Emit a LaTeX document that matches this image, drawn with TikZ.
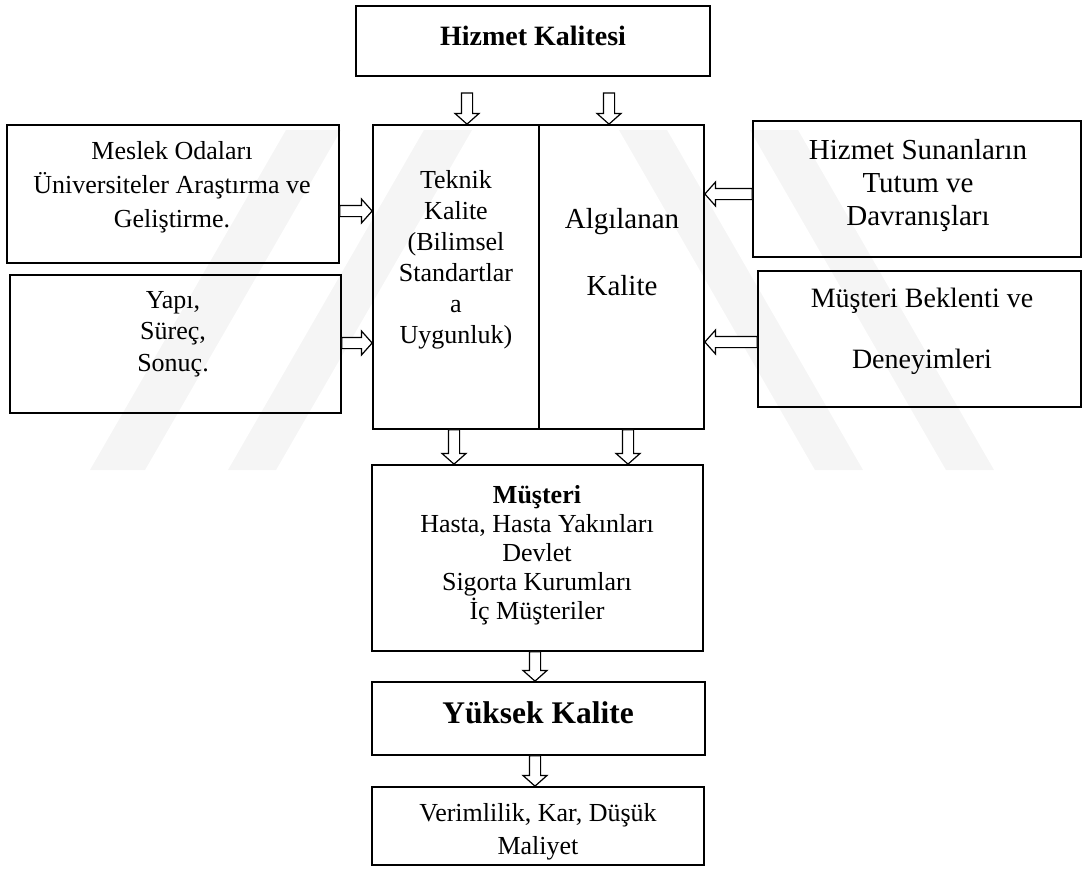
\documentclass[tikz,border=0pt]{standalone}
\usepackage{fontspec}
\setmainfont{Liberation Serif}
\usetikzlibrary{calc}
\tikzset{
  box/.style={draw, line width=1.3pt, inner sep=0pt},
  txt/.style={align=center, inner sep=0pt},
  wm/.style={fill=black!4, draw=none},
  hollow/.style={draw, fill=white, line width=0.9pt, line join=miter, to path={
    ($(\tikztotarget)!8pt!(\tikztostart)$) coordinate (hb)
    ($(\tikztostart)!4.2pt!90:(\tikztotarget)$) -- ($(hb)!4.2pt!90:(\tikztotarget)$)
    -- ($(hb)!9pt!90:(\tikztotarget)$) -- (\tikztotarget)
    -- ($(hb)!9pt!-90:(\tikztotarget)$) -- ($(hb)!4.2pt!-90:(\tikztotarget)$)
    -- ($(\tikztostart)!4.2pt!-90:(\tikztotarget)$) -- cycle}}
}
\begin{document}
\begin{tikzpicture}[x=0.75pt,y=-0.75pt]
\useasboundingbox (0,0) rectangle (1083,869);
% watermark
\fill[wm] (90,470) -- (145,470) -- (341,130) -- (286,130) -- cycle;
\fill[wm] (228,470) -- (276,470) -- (472,130) -- (424,130) -- cycle;
\fill[wm] (815,470) -- (863,470) -- (667,130) -- (619,130) -- cycle;
\fill[wm] (946,470) -- (994,470) -- (798,130) -- (750,130) -- cycle;
% boxes
\node[box, minimum width=265.5pt, minimum height=52.5pt] (hk) at (533,41) {};
\node[box, minimum width=249pt, minimum height=103.5pt] (lb1) at (173,194) {};
\node[box, minimum width=248.25pt, minimum height=103.5pt] (lb2) at (175.5,344) {};
\node[box, minimum width=124.5pt, minimum height=228pt] (tek) at (456,277) {};
\node[box, minimum width=123.75pt, minimum height=228pt] (alg) at (621.5,277) {};
\node[box, minimum width=246pt, minimum height=102pt] (rb1) at (917,189) {};
\node[box, minimum width=242.25pt, minimum height=102pt] (rb2) at (919.5,339) {};
\node[box, minimum width=248.25pt, minimum height=139.5pt] (mus) at (537.5,558) {};
\node[box, minimum width=249.75pt, minimum height=54.75pt] (yk) at (538.5,718.5) {};
\node[box, minimum width=249pt, minimum height=58.5pt] (vr) at (538,826) {};
% texts
\node[txt, font=\bfseries\fontsize{21}{24}\selectfont] (hkt) at (533,36) {Hizmet Kalitesi};
\node[txt, font=\fontsize{19.5}{25.5}\selectfont] (lb1t) at (172,187) {Meslek Odaları\\Üniversiteler Araştırma ve\\Geliştirme.};
\node[txt, font=\fontsize{19.5}{23.6}\selectfont] (lb2t) at (173,334) {Yapı,\\Süreç,\\Sonuç.};
\node[txt, font=\fontsize{19.5}{23.25}\selectfont] (tekt) at (456,260) {Teknik\\Kalite\\(Bilimsel\\Standartlar\\a\\Uygunluk)};
\node[txt, font=\fontsize{21.75}{50.25}\selectfont] (algt) at (622,252) {Algılanan\\Kalite};
\node[txt, font=\fontsize{21.75}{24.75}\selectfont] (rb1t) at (918,186) {Hizmet Sunanların\\Tutum ve\\Davranışları};
\node[txt, font=\fontsize{21}{45.75}\selectfont] (rb2t) at (922,331) {Müşteri Beklenti ve\\Deneyimleri};
\node[txt, font=\fontsize{19.5}{21.75}\selectfont] (must) at (537,555) {\textbf{Müşteri}\\Hasta, Hasta Yakınları\\Devlet\\Sigorta Kurumları\\İç Müşteriler};
\node[txt, font=\bfseries\fontsize{23.6}{26}\selectfont] (ykt) at (538,713) {Yüksek Kalite};
\node[txt, font=\fontsize{19.5}{24.75}\selectfont] (vrt) at (538,832) {Verimlilik, Kar, Düşük\\Maliyet};
% arrow coordinates
\coordinate (t1) at (467,93);
\coordinate (t2) at (609,93);
\coordinate (yl1) at (0,211);
\coordinate (yl2) at (0,343);
\coordinate (yr1) at (0,194);
\coordinate (yr2) at (0,342);
\coordinate (xb1) at (454,0);
\coordinate (xb2) at (628,0);
\coordinate (xc) at (535,0);
% arrows
\draw[hollow] (t1) to (t1 |- tek.north);
\draw[hollow] (t2) to (t2 |- alg.north);
\draw[hollow] (lb1.east |- yl1) to (tek.west |- yl1);
\draw[hollow] (lb2.east |- yl2) to (tek.west |- yl2);
\draw[hollow] (rb1.west |- yr1) to (alg.east |- yr1);
\draw[hollow] (rb2.west |- yr2) to (alg.east |- yr2);
\draw[hollow] (xb1 |- tek.south) to (xb1 |- mus.north);
\draw[hollow] (xb2 |- alg.south) to (xb2 |- mus.north);
\draw[hollow] (xc |- mus.south) to (xc |- yk.north);
\draw[hollow] (xc |- yk.south) to (xc |- vr.north);
\end{tikzpicture}
\end{document}
